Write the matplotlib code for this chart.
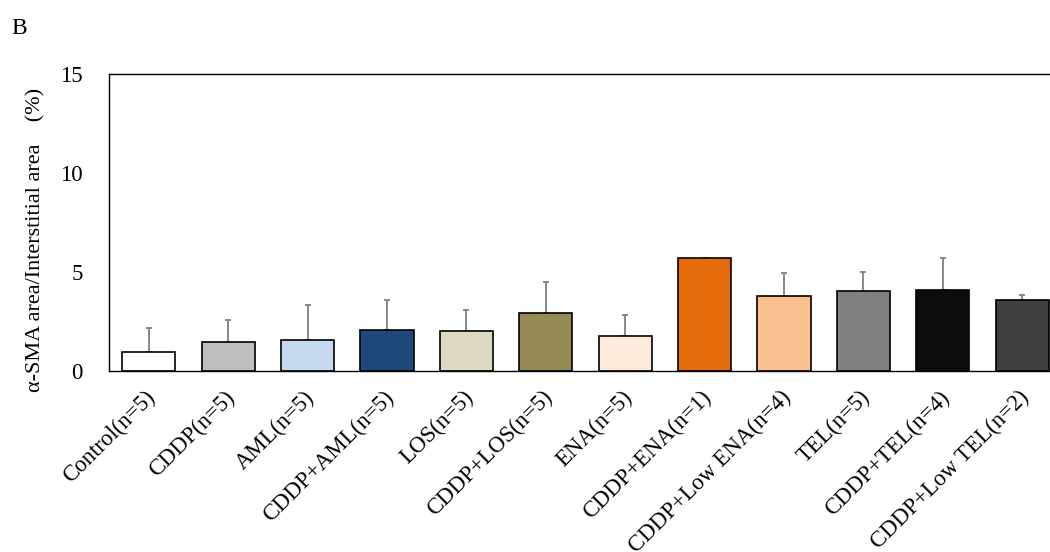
import numpy as np
import matplotlib
matplotlib.use("Agg")
import matplotlib.pyplot as plt
import matplotlib.transforms as mtransforms

# data
groups = ["Control(n=5)", "CDDP(n=5)", "AML(n=5)", "CDDP+AML(n=5)", "LOS(n=5)",
          "CDDP+LOS(n=5)", "ENA(n=5)", "CDDP+ENA(n=1)", "CDDP+Low ENA(n=4)",
          "TEL(n=5)", "CDDP+TEL(n=4)", "CDDP+Low TEL(n=2)"]
means = [0.97, 1.45, 1.58, 2.05, 2.0, 2.95, 1.75, 5.71, 3.8, 4.06, 4.1, 3.59]
sd_upper = [1.2, 1.13, 1.77, 1.53, 1.06, 1.53, 1.06, 0.0, 1.13, 0.94, 1.6, 0.23]
colors = ["#FFFFFF", "#BFBFBF", "#C6D9F0", "#1F497D", "#DDD9C3", "#948A54",
          "#FDE9D9", "#E46C0A", "#FAC090", "#808080", "#0D0D0D", "#404040"]
yticks = [0, 5, 10, 15]

serif = ["Liberation Serif", "Noto Sans CJK JP"]
plt.rcParams["font.family"] = serif

fig = plt.figure(figsize=(10.5, 5.52), dpi=100)
ax = fig.add_axes([0.1038, 0.3279, 0.9076, 0.538])

x = np.arange(len(groups))
ax.bar(x, means, width=0.67, color=colors, edgecolor="black", linewidth=1.2, zorder=2)
errs = [sd if sd > 0 else np.nan for sd in sd_upper]
ax.errorbar(x, means, yerr=[np.zeros(len(x)), errs], fmt="none", ecolor="#7F7F7F",
            elinewidth=1.3, capsize=2, capthick=1.3, zorder=1)

ax.set_xlim(-0.5, len(groups) - 0.5)
ax.set_ylim(0, 15)
ax.set_yticks(yticks)
ax.set_yticklabels([str(t) for t in yticks], fontsize=16.5)
ax.tick_params(axis="y", length=0, pad=19)
ax.tick_params(axis="x", length=0, pad=2)
ax.set_xticks(x)
ax.set_xticklabels(groups, rotation=45, ha="right", rotation_mode="anchor", fontsize=16.5)
# nudge the rotated labels so their top-right end sits just below each bar
offset = mtransforms.ScaledTranslation(-4 / 100, -13 / 100, fig.dpi_scale_trans)
for lbl in ax.get_xticklabels():
    lbl.set_transform(lbl.get_transform() + offset)

for s in ax.spines.values():
    s.set_linewidth(1.0)
    s.set_color("black")

fig.text(36 / 1050, 1 - 240 / 552, "α-SMA area/Interstitial area　(%)", rotation=90,
         ha="center", va="center", fontsize=16, family=serif)
fig.text(11 / 1050, 1 - 28 / 552, "B", ha="left", va="center", fontsize=17, family=serif)

fig.savefig("out.png", dpi=100)
